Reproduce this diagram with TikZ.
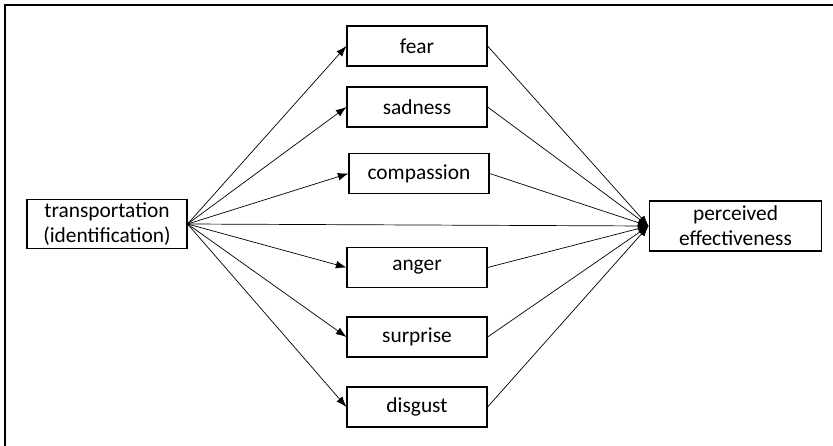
\documentclass[tikz,border=0pt]{standalone}
\usepackage{fontspec}
\setmainfont{Carlito}
\usetikzlibrary{arrows.meta, positioning}

\begin{document}
\begin{tikzpicture}[x=0.025cm, y=-0.025cm]
        \tikzstyle{emotion} = [rectangle, draw, line width=0.8pt, minimum width=3.5cm, minimum height=1cm, inner sep=0pt, font=\fontsize{15.2}{17.8}\selectfont]
        \tikzstyle{outer} = [rectangle, draw, line width=0.8pt, align=center, inner sep=0pt, font=\fontsize{15.2}{17.8}\selectfont]
        \tikzstyle{link} = [-{Latex[length=7.5pt, width=5.5pt]}, line width=0.5pt]

        \useasboundingbox (0,0) rectangle (833,446);
        \draw [line width=1.2pt] (5,446) -- (5,5) -- (833,5);

        \node (transport) [outer, minimum width=4cm, minimum height=1.22cm] at (107,224) {transportation\\(identification)};
        \node (perceived) [outer, minimum width=4.32cm, minimum height=1.25cm] at (735.5,226) {perceived\\effectiveness};

        \node (fear) [emotion] at (417,46) {fear};
        \node (sadness) [emotion] at (417,107) {sadness};
        \node (compassion) [emotion] at (419,173.5) {compassion};
        \node (anger) [emotion] at (417,267.5) {anger};
        \node (surprise) [emotion] at (417,337) {surprise};
        \node (disgust) [emotion] at (417,407) {disgust};

        \draw [link] (transport.east) -- (fear.west);
        \draw [link] (transport.east) -- (sadness.west);
        \draw [link] (transport.east) -- (compassion.west);
        \draw [link] (transport.east) -- (anger.west);
        \draw [link] (transport.east) -- (surprise.west);
        \draw [link] (transport.east) -- (disgust.west);
        \draw [link] (transport.east) -- (perceived.west);

        \draw [link] (fear.east) -- (perceived.west);
        \draw [link] (sadness.east) -- (perceived.west);
        \draw [link] (compassion.east) -- (perceived.west);
        \draw [link] (anger.east) -- (perceived.west);
        \draw [link] (surprise.east) -- (perceived.west);
        \draw [link] (disgust.east) -- (perceived.west);
    \end{tikzpicture}
\end{document}
